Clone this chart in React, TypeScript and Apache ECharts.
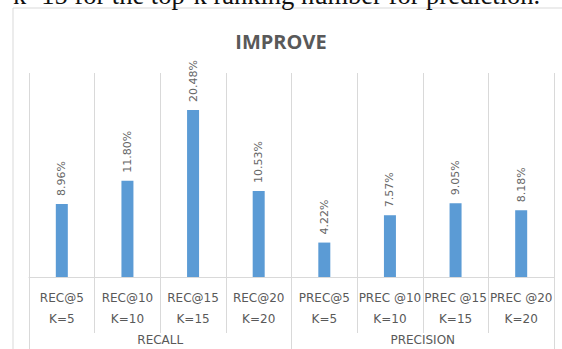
import React, { useEffect, useRef } from "react";
import * as echarts from "echarts";

const categories = ["REC@5", "REC@10", "REC@15", "REC@20", "PREC@5", "PREC @10", "PREC @15", "PREC @20"];
const kLabels = ["K=5", "K=10", "K=15", "K=20", "K=5", "K=10", "K=15", "K=20"];
const groups = ["RECALL", "PRECISION"];
const values = [8.96, 11.8, 20.48, 10.53, 4.22, 7.57, 9.05, 8.18];
const valueLabels = ["8.96%", "11.80%", "20.48%", "10.53%", "4.22%", "7.57%", "9.05%", "8.18%"];
const caption = "k=15 for the top-k ranking number for prediction.";
const title = "IMPROVE";

export default function App() {
  const ref = useRef<HTMLDivElement>(null);
  useEffect(() => {
    document.body.style.margin = "0";
    const chart = echarts.init(ref.current!, null, { renderer: "svg" });
    const gray = "#595959";
    const lineColor = "#d9d9d9";
    chart.setOption({
      animation: false,
      backgroundColor: "#ffffff",
      title: {
        text: title,
        left: "center",
        top: 26,
        textStyle: { fontFamily: "Open Sans", fontWeight: "bold", fontSize: 20, color: gray },
      },
      graphic: [
        {
          type: "rect",
          shape: { x: 13, y: 8, width: 600, height: 400 },
          style: { fill: "none", stroke: lineColor, lineWidth: 1 },
          silent: true,
        },
        {
          type: "text",
          x: 13,
          y: 8,
          style: {
            text: caption,
            font: "26.5px 'Liberation Serif', serif",
            fill: "#111111",
            textVerticalAlign: "bottom",
          },
          silent: true,
        },
      ],
      grid: { left: 29, right: 8, top: 73, bottom: 72 },
      xAxis: [
        {
          type: "category",
          data: categories,
          position: "bottom",
          axisLine: { show: true, lineStyle: { color: lineColor } },
          axisTick: { show: true, length: 56, lineStyle: { color: lineColor } },
          splitLine: { show: true, lineStyle: { color: lineColor } },
          axisLabel: {
            interval: 0,
            margin: 10,
            formatter: (v: string, i: number) => `{a|${v}}\n{b|${kLabels[i]}}`,
            rich: {
              a: { fontFamily: "DejaVu Sans", fontSize: 12, color: gray, lineHeight: 21 },
              b: { fontFamily: "DejaVu Sans", fontSize: 12, color: gray, lineHeight: 21 },
            },
          },
        },
        {
          type: "category",
          data: groups,
          position: "bottom",
          axisLine: { show: false },
          axisTick: { show: true, length: 80, lineStyle: { color: lineColor } },
          splitLine: { show: false },
          axisLabel: {
            interval: 0,
            margin: 57,
            fontFamily: "DejaVu Sans",
            fontSize: 12,
            color: gray,
          },
        },
      ],
      yAxis: {
        type: "value",
        min: 0,
        max: 25,
        show: false,
        splitLine: { show: false },
      },
      series: [
        {
          type: "bar",
          data: values,
          barWidth: 12,
          itemStyle: { color: "#5b9bd5" },
          label: {
            show: true,
            position: "top",
            rotate: 90,
            align: "left",
            verticalAlign: "middle",
            distance: 8,
            fontFamily: "DejaVu Sans",
            fontSize: 11,
            color: "#666666",
            formatter: (p: any) => valueLabels[p.dataIndex],
          },
        },
      ],
    });
    return () => chart.dispose();
  }, []);
  return <div ref={ref} style={{ width: 562, height: 349 }} />;
}
